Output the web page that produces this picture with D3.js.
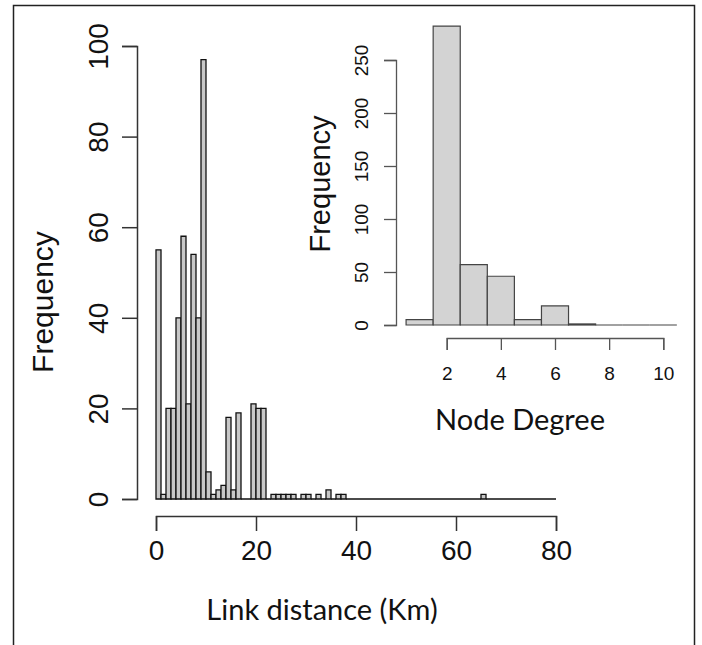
<!DOCTYPE html>
<html>
<head>
<meta charset="utf-8">
<script src="https://cdn.jsdelivr.net/npm/d3@7"></script>
<style>
  html, body { margin: 0; padding: 0; background: #fff; }
  svg { display: block; }
</style>
</head>
<body>
<svg id="chart" width="702" height="645"></svg>
<script>
// ---- Data ----
// Main histogram: link distance (km), 1-km bins from 0 to 80
const linkBinStart = 0;
const linkBinWidth = 1;
const linkCounts = [
  55, 1, 20, 20, 40, 58, 21, 54, 40, 97,
  6, 1, 2, 3, 18, 2, 19, 0, 0, 21,
  20, 20, 0, 1, 1, 1, 1, 1, 0, 1,
  1, 0, 1, 0, 2, 0, 1, 1, 0, 0,
  0, 0, 0, 0, 0, 0, 0, 0, 0, 0,
  0, 0, 0, 0, 0, 0, 0, 0, 0, 0,
  0, 0, 0, 0, 0, 1, 0, 0, 0, 0,
  0, 0, 0, 0, 0, 0, 0, 0, 0, 0
];
const linkXTicks = [0, 20, 40, 60, 80];
const linkYTicks = [0, 20, 40, 60, 80, 100];

// Inset histogram: node degree, bins centred on integers 1..10
const degreeValues = [1, 2, 3, 4, 5, 6, 7, 8, 9, 10];
const degreeCounts = [5, 282, 57, 46, 5, 18, 1, 0, 0, 0];
const degreeXTicks = [2, 4, 6, 8, 10];
const degreeYTicks = [0, 50, 100, 150, 200, 250];

const labels = {
  mainX: "Link distance (Km)",
  mainY: "Frequency",
  insetX: "Node Degree",
  insetY: "Frequency"
};

// ---- Drawing ----
const svg = d3.select("#chart");
const axisFont = "'Liberation Sans', Arial, Helvetica, sans-serif";
const titleFont = "Lato, 'Open Sans', sans-serif";

// outer frame
svg.append("rect")
  .attr("x", 13.5).attr("y", 5.5)
  .attr("width", 681).attr("height", 700)
  .attr("fill", "none").attr("stroke", "#222").attr("stroke-width", 1.5);

// bar outline as a path so that empty bins still show as a line on the baseline
function barPath(x, y, b) {
  const p = d3.path();
  const x0 = x(b.x0), x1 = x(b.x1), y0 = y(0), y1 = y(b.count);
  p.moveTo(x0, y0);
  p.lineTo(x0, y1);
  p.lineTo(x1, y1);
  p.lineTo(x1, y0);
  p.closePath();
  return p.toString();
}

// Main scales
const xMain = d3.scaleLinear().domain([0, 80]).range([156, 556]);
const yMain = d3.scaleLinear().domain([0, 100]).range([499, 46]);

const linkBins = linkCounts.map((c, i) => ({
  x0: linkBinStart + i * linkBinWidth,
  x1: linkBinStart + (i + 1) * linkBinWidth,
  count: c
}));

svg.append("g").selectAll("path").data(linkBins).join("path")
  .attr("d", d => barPath(xMain, yMain, d))
  .attr("fill", "#c8c8c8")
  .attr("stroke", "#111")
  .attr("stroke-width", 1.3);

function styleAxis(g, color, width) {
  g.select(".domain").attr("stroke", color).attr("stroke-width", width);
  g.selectAll(".tick line").attr("stroke", color).attr("stroke-width", width);
  g.selectAll(".tick text").attr("fill", "#111");
}

// Main x axis
const gMX = svg.append("g").attr("transform", "translate(0,516)")
  .call(d3.axisBottom(xMain).tickValues(linkXTicks).tickSizeOuter(0).tickSize(15).tickPadding(0))
  .attr("font-family", axisFont).attr("font-size", 28);
styleAxis(gMX, "#333", 1.5);
gMX.selectAll(".tick text").attr("y", 0).attr("dy", 0).attr("transform", "translate(0,34)")
  .attr("dominant-baseline", "central");

// Main y axis
const gMY = svg.append("g").attr("transform", "translate(137,0)")
  .call(d3.axisLeft(yMain).tickValues(linkYTicks).tickSizeOuter(0).tickSize(15))
  .attr("font-family", axisFont).attr("font-size", 28);
styleAxis(gMY, "#333", 1.5);
gMY.selectAll(".tick text")
  .attr("x", 0).attr("y", 0).attr("dy", "0.35em")
  .attr("text-anchor", "middle")
  .attr("transform", "translate(-39,0) rotate(-90)");

// Main titles
svg.append("text")
  .attr("x", 322).attr("y", 608)
  .attr("text-anchor", "middle").attr("dominant-baseline", "central")
  .attr("font-family", titleFont).attr("font-size", 29).attr("fill", "#111")
  .text(labels.mainX);
svg.append("text")
  .attr("transform", "translate(42,302) rotate(-90)")
  .attr("text-anchor", "middle").attr("dominant-baseline", "central")
  .attr("font-family", axisFont).attr("font-size", 30).attr("fill", "#111")
  .text(labels.mainY);

// Inset scales
const xIn = d3.scaleLinear().domain([2, 10]).range([446.7, 663.3]);
const yIn = d3.scaleLinear().domain([0, 250]).range([325, 60]);

const degBins = degreeValues.map((v, i) => ({ x0: v - 0.5, x1: v + 0.5, count: degreeCounts[i] }));
svg.append("g").selectAll("path").data(degBins).join("path")
  .attr("d", d => barPath(xIn, yIn, d))
  .attr("fill", "#d3d3d3")
  .attr("stroke", "#444")
  .attr("stroke-width", 1.2);

const gIX = svg.append("g").attr("transform", "translate(0,338)")
  .call(d3.axisBottom(xIn).tickValues(degreeXTicks).tickSizeOuter(0).tickSize(12))
  .attr("font-family", axisFont).attr("font-size", 19);
styleAxis(gIX, "#555", 1.3);
gIX.selectAll(".tick text").attr("y", 0).attr("dy", 0).attr("transform", "translate(0,35)")
  .attr("dominant-baseline", "central");

const gIY = svg.append("g").attr("transform", "translate(396,0)")
  .call(d3.axisLeft(yIn).tickValues(degreeYTicks).tickSizeOuter(0).tickSize(12))
  .attr("font-family", axisFont).attr("font-size", 19);
styleAxis(gIY, "#555", 1.3);
gIY.selectAll(".tick text")
  .attr("x", 0).attr("y", 0).attr("dy", "0.35em")
  .attr("text-anchor", "middle")
  .attr("transform", "translate(-35,0) rotate(-90)");

svg.append("text")
  .attr("x", 520).attr("y", 418)
  .attr("text-anchor", "middle").attr("dominant-baseline", "central")
  .attr("font-family", titleFont).attr("font-size", 29).attr("fill", "#111")
  .text(labels.insetX);
svg.append("text")
  .attr("transform", "translate(320,184) rotate(-90)")
  .attr("text-anchor", "middle").attr("dominant-baseline", "central")
  .attr("font-family", axisFont).attr("font-size", 29).attr("fill", "#111")
  .text(labels.insetY);
</script>
</body>
</html>
